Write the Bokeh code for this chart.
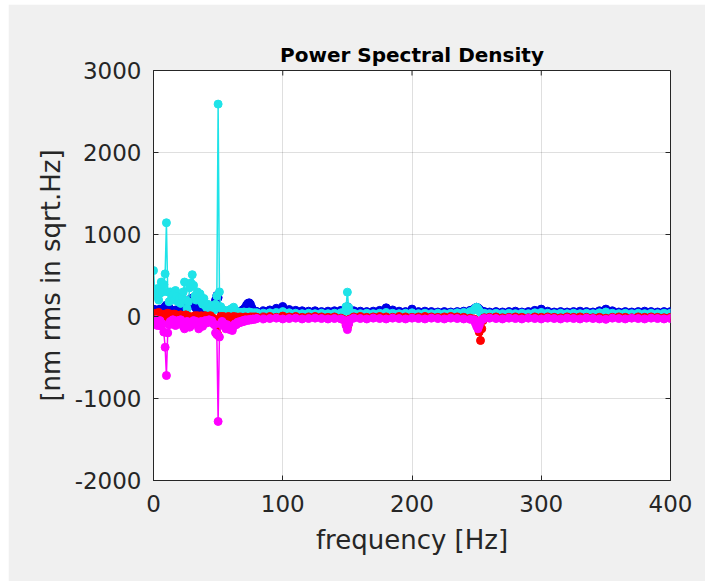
from bokeh.plotting import figure
from bokeh.models import FixedTicker
from bokeh.embed import file_html
from bokeh.resources import INLINE

# frequency grid [Hz]
freq = (list(range(0, 81)) + list(range(85, 146, 5)) + list(range(148, 153))
        + list(range(155, 246, 5)) + list(range(248, 257)) + list(range(260, 401, 5)))

# ---- series values ----
blue_vals = [
    90, 60, 80, 50, 70, 90, 60, 80, 100, 120,
    140, 135, 110, 80, 60, 70, 50, 80, 60, 70,
    90, 60, 80, 70, 60, 90, 110, 130, 180, 220,
    200, 160, 120, 100, 110, 90, 70, 80, 60, 90,
    70, 60, 80, 70, 60, 90, 110, 130, 200, 256,
    230, 120, 80, 60, 70, 60, 50, 60, 70, 60,
    50, 60, 70, 60, 50, 60, 55, 60, 70, 80,
    90, 110, 140, 160, 167, 150, 110, 80, 70, 65,
    60,
    70, 80, 100, 122, 85, 75, 70, 65, 70, 60, 65, 70, 75,
    90, 110, 120, 100, 80,
    70, 65, 60, 65, 75, 106, 80, 65, 60, 90,
    60, 65, 60, 55, 60, 55, 60, 65, 75,
    90, 105, 113, 105, 90, 75, 65, 60, 60,
    55, 60, 55, 60, 65, 55, 60, 75, 90, 65,
    55, 60, 55, 60, 65, 60, 55, 70, 90, 70,
    55, 60, 55, 60, 65, 60, 55, 60, 60,
]

cyan_vals = [
    560, 300, 250, 340, 200, 280, 420, 300, 390, 520,
    1143, 300, 180, 300, 220, 260, 200, 317, 250, 180,
    220, 160, 240, 300, 420, 200, 94, 180, 350, 410,
    510, 380, 250, 200, 300, 260, 277, 180, 150, 220,
    140, 110, 150, 120, 100, 130, 90, 80, 150, 250,
    2590, 300, 120, 90, 80, 70, 60, 70, 60, 80,
    90, 100, 113, 80, 60, 50, 55, 50, 45, 50,
    55, 50, 45, 50, 55, 50, 45, 40, 45, 40,
    45,
    40, 45, 50, 60, 45, 40, 35, 40, 35, 40, 35, 40, 45,
    60, 120, 297, 110, 55,
    40, 35, 40, 35, 40, 50, 40, 35, 40, 45,
    35, 40, 35, 40, 35, 40, 45, 50, 60,
    80, 100, 113, 95, 70, 50, 40, 35, 40,
    35, 40, 35, 40, 35, 40, 35, 45, 50, 40,
    35, 40, 35, 40, 35, 40, 35, 45, 55, 40,
    35, 40, 35, 40, 35, 40, 35, 40, 40,
]

red_vals = [
    30, 10, 40, 20, 50, 30, 10, 20, -20, 30,
    20, 40, 10, 30, 0, 20, 30, 10, 20, 0,
    10, 20, -10, 10, 0, 20, 10, -10, 0, -20,
    -30, -10, 10, 0, 10, -10, 0, 10, -10, 0,
    10, 0, -10, 0, 10, -10, -20, -40, -100, -190,
    -230, -30, 0, -10, 0, -10, -20, -10, 0, -10,
    -20, -10, 0, -10, -5, -15, -10, -5, -10, -15,
    -10, -5, -10, -15, -10, -5, -10, -5, -10, -5,
    -10,
    -5, 0, -10, 5, -5, 0, -10, -5, 0, -5, -10, -5, -20,
    -40, -90, -130, -80, -30,
    -5, 0, -10, -5, 0, -5, -10, 0, -5, -10,
    -5, 0, -5, -10, -5, 0, -5, -10, -20,
    -30, -60, -90, -130, -190, -293, -150, -50, -15,
    -10, -5, -15, -10, -5, -10, -15, -5, -10, -5,
    -10, -15, -5, -10, -5, -10, -15, -10, -20, -10,
    -5, -10, -15, -5, -10, -5, -10, -15, -10,
]

magenta_vals = [
    -60, -90, -40, -110, -70, -50, -120, -90, -190, -375,
    -720, -200, -100, -60, -90, -40, -70, -110, -60, -50,
    -80, -40, -60, -120, -150, -90, -60, -80, -130, -110,
    -70, -50, -90, -60, -80, -150, -100, -60, -120, -70,
    -50, -80, -60, -40, -70, -50, -80, -100, -200, -220,
    -1280, -250, -90, -60, -80, -120, -150, -100, -130, -160,
    -140, -171, -120, -90, -100, -70, -80, -60, -70, -50,
    -60, -40, -50, -40, -45, -35, -40, -30, -35, -30,
    -25,
    -30, -25, -20, -30, -25, -20, -30, -25, -20, -25, -30, -25, -30,
    -50, -110, -160, -90, -40,
    -20, -25, -30, -20, -25, -30, -20, -25, -30, -20,
    -25, -30, -20, -25, -30, -20, -25, -30, -35,
    -40, -80, -120, -150, -110, -60, -40, -30, -25,
    -20, -25, -30, -20, -25, -30, -20, -25, -30, -20,
    -25, -30, -20, -25, -30, -20, -25, -30, -35, -20,
    -25, -30, -20, -25, -30, -20, -25, -30, -25,
]

series = [
    ("#0000e6", blue_vals),
    ("#1fe3e8", cyan_vals),
    ("#ff0000", red_vals),
    ("#ff00ff", magenta_vals),
]

x_ticks = [0, 100, 200, 300, 400]
y_ticks = [-2000, -1000, 0, 1000, 2000, 3000]
x_lim = (0, 400)
y_lim = (-2000, 3000)

FONT = "DejaVu Sans"
DARK = "#262626"

W, H = 697, 577
BL, BR, BT, BB = 145, 35, 66, 101

p = figure(width=W, height=H, x_range=x_lim, y_range=y_lim,
           output_backend="svg", toolbar_location=None,
           min_border_left=BL, min_border_right=BR,
           min_border_top=BT, min_border_bottom=BB)
p.margin = (4, 6, 0, 8)

p.border_fill_color = "#f0f0f0"
p.background_fill_color = "white"
p.outline_line_color = DARK
p.outline_line_width = 1

p.title.text = "Power Spectral Density"
p.title.align = "center"
p.title.text_font = FONT
p.title.text_font_size = "20px"
p.title.text_font_style = "bold"
p.title.text_color = "black"
p.title.standoff = 8

for ax in (p.xaxis[0], p.yaxis[0]):
    ax.axis_line_color = DARK
    ax.major_tick_line_color = DARK
    ax.major_tick_in = 5
    ax.major_tick_out = 0
    ax.minor_tick_line_color = None
    ax.major_label_text_font = FONT
    ax.major_label_text_font_size = "23px"
    ax.major_label_text_color = DARK
    ax.axis_label_text_font = FONT
    ax.axis_label_text_font_size = "26px"
    ax.axis_label_text_font_style = "normal"
    ax.axis_label_text_color = DARK

p.xaxis[0].ticker = FixedTicker(ticks=x_ticks)
p.yaxis[0].ticker = FixedTicker(ticks=y_ticks)
p.yaxis[0].major_label_overrides = {t: str(t) for t in y_ticks}
p.xaxis[0].axis_label = "frequency [Hz]"
p.yaxis[0].axis_label = "[nm rms in sqrt.Hz]"
p.xaxis[0].major_label_standoff = 14
p.yaxis[0].major_label_standoff = 12
p.xaxis[0].axis_label_standoff = 10
p.yaxis[0].axis_label_standoff = 6

p.xgrid.ticker = FixedTicker(ticks=x_ticks)
p.ygrid.ticker = FixedTicker(ticks=y_ticks)
for g in (p.xgrid, p.ygrid):
    g.grid_line_color = DARK
    g.grid_line_alpha = 0.15

# inward tick marks on the top and right edges of the box (5 px long)
frame_w = W - BL - BR
frame_h = H - BT - BB
ty = 5 * (y_lim[1] - y_lim[0]) / frame_h
tx = 5 * (x_lim[1] - x_lim[0]) / frame_w
p.segment(x0=x_ticks, y0=[y_lim[1]] * len(x_ticks), x1=x_ticks, y1=[y_lim[1] - ty] * len(x_ticks),
          line_color=DARK, line_width=1)
p.segment(x0=[x_lim[1]] * len(y_ticks), y0=y_ticks, x1=[x_lim[1] - tx] * len(y_ticks), y1=y_ticks,
          line_color=DARK, line_width=1)

for color, vals in series:
    p.line(freq, vals, line_color=color, line_width=1.5)
    p.scatter(freq, vals, marker="circle", size=8, fill_color=color, line_color=color)

open("out.html", "w").write(file_html(p, INLINE))
